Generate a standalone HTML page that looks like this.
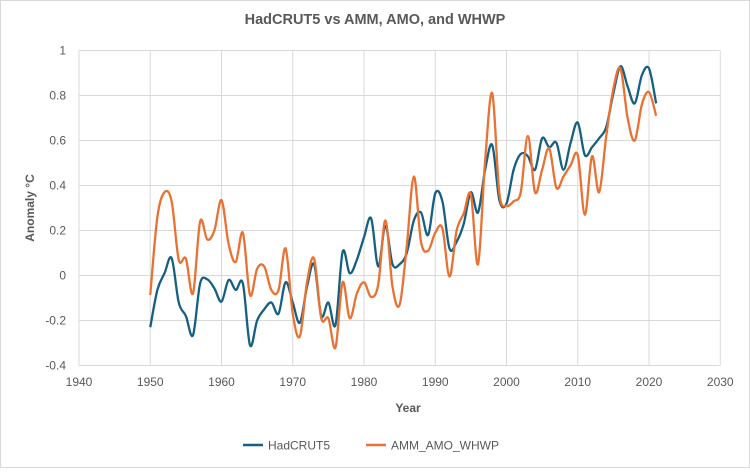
<!DOCTYPE html>
<html><head><meta charset="utf-8">
<style>
body{margin:0;background:#fff;}
svg text{font-family:"Liberation Sans",sans-serif;fill:#595959;}
</style></head>
<body>
<svg width="750" height="468" id="c">
<rect x="0.5" y="0.5" width="749" height="467" fill="#fff" stroke="#d9d9d9"/>
<text x="375" y="24" text-anchor="middle" font-size="14.5" font-weight="bold">HadCRUT5 vs AMM, AMO, and WHWP</text>
<g id="grid"></g>
<g id="ticks"></g>
<text x="408" y="412" text-anchor="middle" font-size="12" font-weight="bold">Year</text>
<text transform="translate(34,208) rotate(-90)" text-anchor="middle" font-size="12" font-weight="bold">Anomaly °C</text>
<g id="series"></g>
<g>
<line x1="243" y1="445" x2="263" y2="445" stroke="#156082" stroke-width="2.5"/>
<text x="268" y="449.5" font-size="12">HadCRUT5</text>
<line x1="366" y1="445" x2="386" y2="445" stroke="#E97132" stroke-width="2.5"/>
<text x="391" y="449.5" font-size="12">AMM_AMO_WHWP</text>
</g>
</svg>
<script>
const years=[];for(let y=1950;y<=2021;y++)years.push(y);
const hadcrut=[-0.23,-0.064,0.01,0.077,-0.12,-0.18,-0.265,-0.035,-0.017,-0.057,-0.116,-0.02,-0.064,-0.035,-0.31,-0.2,-0.15,-0.12,-0.17,-0.03,-0.12,-0.21,-0.05,0.05,-0.18,-0.12,-0.22,0.105,0.01,0.07,0.17,0.254,0.04,0.22,0.05,0.05,0.1,0.245,0.28,0.18,0.365,0.33,0.12,0.15,0.23,0.37,0.28,0.47,0.58,0.335,0.32,0.47,0.54,0.53,0.47,0.61,0.57,0.59,0.47,0.59,0.68,0.535,0.57,0.61,0.66,0.81,0.93,0.84,0.765,0.89,0.92,0.765];
const amm=[-0.087,0.26,0.37,0.33,0.07,0.075,-0.08,0.24,0.16,0.2,0.335,0.14,0.06,0.19,-0.087,0.03,0.04,-0.065,-0.065,0.12,-0.17,-0.27,-0.03,0.075,-0.19,-0.19,-0.32,-0.03,-0.19,-0.08,-0.03,-0.095,-0.04,0.245,-0.05,-0.13,0.13,0.44,0.15,0.11,0.19,0.21,-0.005,0.2,0.276,0.36,0.05,0.51,0.81,0.365,0.31,0.33,0.37,0.62,0.37,0.47,0.565,0.39,0.44,0.49,0.535,0.27,0.53,0.37,0.62,0.83,0.92,0.7,0.6,0.76,0.815,0.71];
const xTicks=[1940,1950,1960,1970,1980,1990,2000,2010,2020,2030];
const yTicks=[-0.4,-0.2,0,0.2,0.4,0.6,0.8,1];
const yLabels=["-0.4","-0.2","0","0.2","0.4","0.6","0.8","1"];
const NS="http://www.w3.org/2000/svg";
const X=v=>79+(v-1940)*7.125, Y=v=>275.5-v*225;
const grid=document.getElementById('grid'),ticks=document.getElementById('ticks'),ser=document.getElementById('series');
function mk(t,a,p){const e=document.createElementNS(NS,t);for(const k in a)e.setAttribute(k,a[k]);p.appendChild(e);return e;}
yTicks.forEach((v,i)=>{
 const l=mk('line',{x1:79,x2:720,y1:Y(v),y2:Y(v),stroke:'#d9d9d9','stroke-width':1},grid);
 
 
 const t=mk('text',{x:66,y:Y(v)+4,'text-anchor':'end','font-size':12},ticks);t.textContent=yLabels[i];
 
 
});
xTicks.forEach(v=>{
 const l=mk('line',{x1:X(v),x2:X(v),y1:Y(1),y2:Y(-0.4),stroke:'#d9d9d9','stroke-width':1},grid);
 
 
 const t=mk('text',{x:X(v),y:386,'text-anchor':'middle','font-size':12},ticks);t.textContent=v;
 
 
});
function path(vals){
 const p=vals.map((v,i)=>[X(years[i]),Y(v)]);
 let d='M'+p[0][0]+','+p[0][1];
 for(let i=0;i<p.length-1;i++){
  const p0=p[i-1]||p[i],p1=p[i],p2=p[i+1],p3=p[i+2]||p2,k=1/6;
  d+=' C'+(p1[0]+(p2[0]-p0[0])*k)+','+(p1[1]+(p2[1]-p0[1])*k)+' '+(p2[0]-(p3[0]-p1[0])*k)+','+(p2[1]-(p3[1]-p1[1])*k)+' '+p2[0]+','+p2[1];
 }
 return d;
}
const a=mk('path',{d:path(hadcrut),fill:'none',stroke:'#156082','stroke-width':2.3},ser);


const b=mk('path',{d:path(amm),fill:'none',stroke:'#E97132','stroke-width':2.3},ser);


</script>
</body></html>
